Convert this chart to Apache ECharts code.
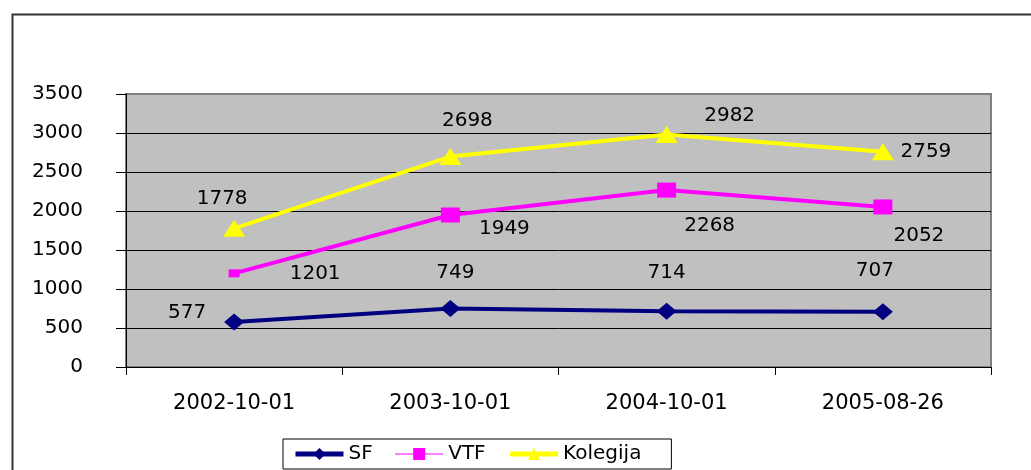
<!DOCTYPE html>
<html>
<head>
<meta charset="utf-8">
<script src="https://cdn.jsdelivr.net/npm/echarts@6/dist/echarts.min.js"></script>
<style>
  html, body { margin: 0; padding: 0; background: #fff; }
  #chart { width: 1031px; height: 470px; }
</style>
</head>
<body>
<div id="chart"></div>
<script>
// podaci
const dates = ['2002-10-01', '2003-10-01', '2004-10-01', '2005-08-26']
const sf = [577, 749, 714, 707]
const vtf = [1201, 1949, 2268, 2052]
const kolegija = [1778, 2698, 2982, 2759]
const yTicks = [0, 500, 1000, 1500, 2000, 2500, 3000, 3500]

// pomaci oznaka (u pikselima) – odvojeno od podataka
const sfOff = [[-47, -9], [5, -36], [0, -39], [-8, -41]]
const vtfOff = [[81, 0], [54, 14], [43, 36], [36, 29]]
const kolOff = [[-12, -30], [17, -36], [63, -19], [43, 0]]

const font = 'DejaVu Sans'

function withLabels(values, offs, sizes) {
  return values.map((v, i) => {
    const item = {
      value: v,
      label: { offset: offs[i] }
    }
    if (sizes && sizes[i]) item.symbolSize = sizes[i]
    return item
  })
}

const labelBase = {
  show: true,
  position: 'inside',
  color: '#000',
  fontFamily: font,
  fontSize: 20
}

const chart = echarts.init(document.getElementById('chart'))
chart.setOption({
  animation: false,
  graphic: [{
    type: 'rect',
    left: 10,
    top: 12,
    shape: { width: 1100, height: 600 },
    style: { fill: 'none', stroke: '#333', lineWidth: 2 },
    silent: true
  }],
  grid: {
    left: 126,
    top: 94,
    right: 40,
    bottom: 103,
    show: true,
    backgroundColor: '#C0C0C0',
    borderColor: '#808080',
    borderWidth: 2
  },
  legend: {
    left: 283,
    top: 439,
    padding: [5, 30, 5, 10],
    itemGap: 22,
    itemWidth: 48,
    itemHeight: 15,
    borderColor: '#000',
    borderWidth: 1,
    borderRadius: 0,
    backgroundColor: '#fff',
    textStyle: { fontFamily: font, fontSize: 20, color: '#000' },
    data: [
      { name: 'SF', lineStyle: { width: 5 } },
      { name: 'VTF', lineStyle: { width: 1 } },
      { name: 'Kolegija', lineStyle: { width: 5 } }
    ]
  },
  xAxis: {
    type: 'category',
    data: dates,
    boundaryGap: true,
    axisLine: { lineStyle: { color: '#000', width: 1 } },
    axisTick: { show: true, length: 8, lineStyle: { color: '#000' } },
    axisLabel: {
      margin: 26,
      color: '#000',
      fontFamily: font,
      fontSize: 21
    },
    splitLine: { show: false }
  },
  yAxis: {
    type: 'value',
    min: yTicks[0],
    max: yTicks[yTicks.length - 1],
    interval: 500,
    axisLine: { show: true, lineStyle: { color: '#000', width: 1 } },
    axisTick: { show: true, length: 10, lineStyle: { color: '#000' } },
    axisLabel: {
      margin: 43,
      color: '#000',
      fontFamily: font,
      fontSize: 20,
      formatter: v => String(v)
    },
    splitLine: {
      show: true,
      lineStyle: {
        color: ['#000', '#000', '#000', '#000', '#000', '#000', '#000', '#808080'],
        width: 1
      }
    }
  },
  series: [
    {
      name: 'SF',
      type: 'line',
      data: withLabels(sf, sfOff),
      symbol: 'diamond',
      symbolSize: [20, 17],
      color: '#000080',
      lineStyle: { color: '#000080', width: 4 },
      itemStyle: { color: '#000080' },
      label: labelBase
    },
    {
      name: 'VTF',
      type: 'line',
      data: withLabels(vtf, vtfOff, [[11, 8]]),
      symbol: 'rect',
      symbolSize: [19, 15],
      color: '#FF00FF',
      lineStyle: { color: '#FF00FF', width: 4 },
      itemStyle: { color: '#FF00FF' },
      label: labelBase
    },
    {
      name: 'Kolegija',
      type: 'line',
      data: withLabels(kolegija, kolOff),
      symbol: 'triangle',
      symbolSize: [22, 17],
      color: '#FFFF00',
      lineStyle: { color: '#FFFF00', width: 4 },
      itemStyle: { color: '#FFFF00' },
      label: labelBase
    }
  ]
})
</script>
</body>
</html>
